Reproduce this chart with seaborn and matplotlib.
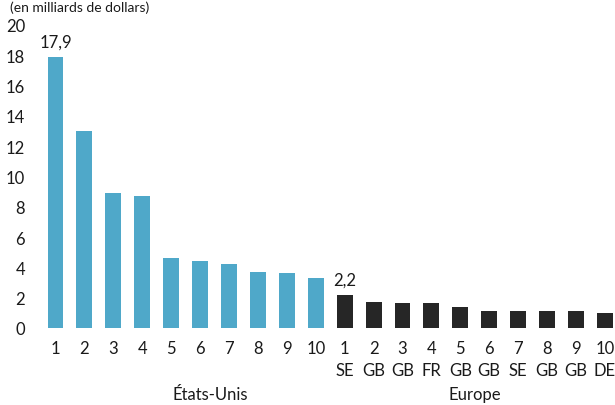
import matplotlib
matplotlib.use("Agg")
import matplotlib.pyplot as plt
import matplotlib.transforms as mtransforms
import seaborn as sns
import pandas as pd

# Rankings and values (billions of dollars)
us_ranks = ["1", "2", "3", "4", "5", "6", "7", "8", "9", "10"]
us_values = [17.9, 13.0, 8.9, 8.7, 4.6, 4.4, 4.2, 3.7, 3.6, 3.3]

eu_ranks = ["1", "2", "3", "4", "5", "6", "7", "8", "9", "10"]
eu_countries = ["SE", "GB", "GB", "FR", "GB", "GB", "SE", "GB", "GB", "DE"]
eu_values = [2.2, 1.7, 1.65, 1.65, 1.4, 1.15, 1.15, 1.15, 1.1, 1.0]

groups = ["États-Unis", "Europe"]
colors = {"États-Unis": "#4fa8c9", "Europe": "#262626"}
y_ticks = [0, 2, 4, 6, 8, 10, 12, 14, 16, 18, 20]
unit_label = "(en milliards de dollars)"

keys = [f"us{r}" for r in us_ranks] + [f"eu{r}" for r in eu_ranks]
df = pd.DataFrame({
    "key": keys,
    "valeur": us_values + eu_values,
    "groupe": [groups[0]] * len(us_values) + [groups[1]] * len(eu_values),
})
tick_labels = us_ranks + [f"{r}\n{c}" for r, c in zip(eu_ranks, eu_countries)]

plt.rcParams["font.family"] = ["Lato", "DejaVu Sans"]

fig = plt.figure(figsize=(6.15, 4.06), dpi=100)
ax = fig.add_axes([37.6 / 615, 1 - 329 / 406, 1 - 37.6 / 615, (329 - 26) / 406])

sns.barplot(data=df, x="key", y="valeur", hue="groupe", palette=colors,
            order=keys, dodge=False, width=0.55, legend=False, ax=ax,
            saturation=1)

ax.set_ylim(0, 20)
ax.set_xlim(-0.62, 19.35)
ax.set_yticks(y_ticks)
ax.set_yticklabels([str(t) for t in y_ticks], fontsize=12, color="#1a1a1a")
ax.set_xticks(range(len(keys)))
ax.set_xticklabels(tick_labels, fontsize=12, color="#1a1a1a", linespacing=1.45,
                   va="top")
ax.tick_params(axis="both", length=0)
ax.tick_params(axis="y", pad=9)
ax.tick_params(axis="x", pad=9)
ax.set_xlabel("")
ax.set_ylabel("")
for s in ax.spines.values():
    s.set_visible(False)
ax.set_facecolor("none")

# Value labels on the leading bar of each group
for idx, val in [(0, us_values[0]), (len(us_values), eu_values[0])]:
    ax.annotate(f"{val:.1f}".replace(".", ","), (idx, val),
                xytext=(0, 5), textcoords="offset points",
                ha="center", va="bottom", fontsize=12, color="#1a1a1a")

# Group names below the axis
trans = mtransforms.blended_transform_factory(ax.transData, fig.transFigure)
ax.text(5.35, 3 / 406, groups[0], transform=trans, ha="center",
        va="bottom", fontsize=12, color="#1a1a1a")
ax.text(14.5, 3 / 406, groups[1], transform=trans, ha="center",
        va="bottom", fontsize=12, color="#1a1a1a")

# Unit note at the top edge
fig.text(10 / 615, 1 - 1 / 406, unit_label, ha="left", va="top",
         fontsize=10, color="#1a1a1a")

fig.savefig("out.png", dpi=100)
